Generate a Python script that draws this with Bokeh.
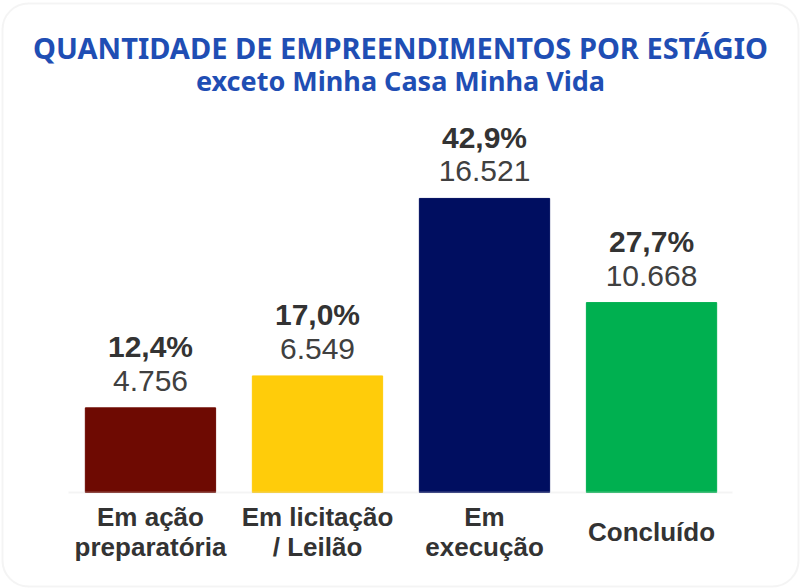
from bokeh.plotting import figure
from bokeh.models import ColumnDataSource, FactorRange, Range1d, Label, BoxAnnotation
from bokeh.core.properties import value
from bokeh.embed import file_html
from bokeh.resources import INLINE

categories = ["Em ação preparatória", "Em licitação / Leilão", "Em execução", "Concluído"]
label_line1 = ["Em ação", "Em licitação", "Em", "Concluído"]
label_line2 = ["preparatória", "/ Leilão", "execução", ""]
values = [4756, 6549, 16521, 10668]
pct_labels = ["12,4%", "17,0%", "42,9%", "27,7%"]
val_labels = ["4.756", "6.549", "16.521", "10.668"]
colors = ["#6E0A02", "#FFCC0A", "#000E60", "#00B050"]

title_text = "QUANTIDADE DE EMPREENDIMENTOS POR ESTÁGIO"
subtitle_text = "exceto Minha Casa Minha Vida"

off1 = [39 if l2 == "" else 24 for l2 in label_line2]
src = ColumnDataSource(dict(x=categories, top=values, pct=pct_labels, val=val_labels,
                            color=colors, l1=label_line1, l2=label_line2, off1=off1,
                            base=[0] * len(categories)))

p = figure(width=801, height=588,
           x_range=FactorRange(*categories, range_padding=0.398, range_padding_units="absolute"),
           y_range=Range1d(-5393, 27640), output_backend="svg", toolbar_location=None,
           min_border=0, x_axis_location=None, y_axis_location=None)
p.background_fill_color = "white"
p.border_fill_color = "white"
p.outline_line_color = None
p.grid.visible = False

p.vbar(x="x", top="top", width=0.78, color="color", source=src)

p.add_layout(BoxAnnotation(left=68, right=732, left_units="screen", right_units="screen",
                           bottom=0, top=0, fill_alpha=0, line_color="#D9D9D9", line_width=2))

p.text(x="x", y="top", text="val", source=src, y_offset=-27, text_align="center",
       text_baseline="middle", text_font=value("Liberation Sans"), text_font_size="30px",
       text_color="#404040")
p.text(x="x", y="top", text="pct", source=src, y_offset=-61, text_align="center",
       text_baseline="middle", text_font=value("Liberation Sans"), text_font_size="30px",
       text_font_style="bold", text_color="#333333")

p.text(x="x", y="base", text="l1", source=src, y_offset="off1", text_align="center",
       text_baseline="middle", text_font=value("Liberation Sans"), text_font_size="26px",
       text_font_style="bold", text_color="#333333")
p.text(x="x", y="base", text="l2", source=src, y_offset=54, text_align="center",
       text_baseline="middle", text_font=value("Liberation Sans"), text_font_size="26px",
       text_font_style="bold", text_color="#333333")

p.add_layout(Label(x=400, y=541, x_units="screen", y_units="screen", text=title_text,
                   text_align="center", text_baseline="middle", text_font="Noto Sans",
                   text_font_size="29px", text_font_style="bold", text_color="#1F4EB4"))
p.add_layout(Label(x=400, y=508, x_units="screen", y_units="screen", text=subtitle_text,
                   text_align="center", text_baseline="middle", text_font="Noto Sans",
                   text_font_size="27px", text_font_style="bold", text_color="#1F4EB4"))

p.add_layout(BoxAnnotation(left=2, right=798, bottom=2, top=585, left_units="screen",
                           right_units="screen", bottom_units="screen", top_units="screen",
                           fill_alpha=0, line_color="#D9D9D9", line_width=2, border_radius=26))

open("out.html", "w").write(file_html(p, INLINE))
